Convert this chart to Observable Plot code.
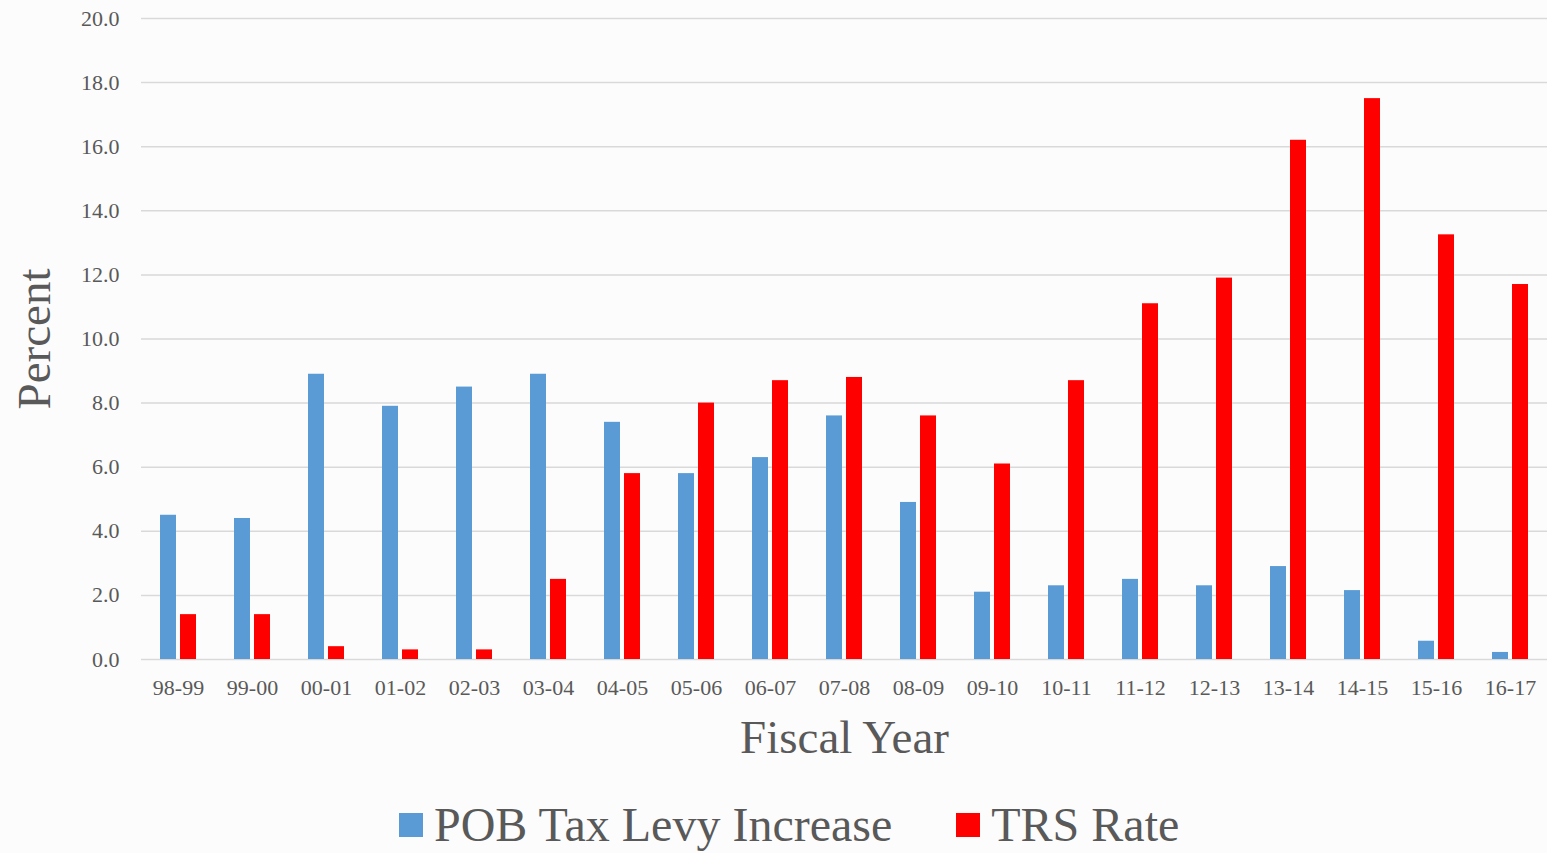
<!DOCTYPE html>
<html><head><meta charset="utf-8">
<script src="https://cdn.jsdelivr.net/npm/d3@7"></script>
<script src="https://cdn.jsdelivr.net/npm/@observablehq/plot@0.6"></script>
<style>
html,body{margin:0;padding:0;overflow:hidden;background:#fcfcfc;}
#chart{position:relative;width:1547px;height:853px;font-family:"Liberation Serif",serif;color:#595959;}
#legend{position:absolute;left:399px;top:801px;display:flex;align-items:center;font-size:48px;line-height:48px;color:#595959;white-space:nowrap;}
.item{display:flex;align-items:center;}
.sw{width:24px;height:24px;margin-right:11px;display:inline-block;}
</style></head><body>
<div id="chart"></div>
<script>
const years = ["98-99","99-00","00-01","01-02","02-03","03-04","04-05","05-06","06-07","07-08","08-09","09-10","10-11","11-12","12-13","13-14","14-15","15-16","16-17"];
const pobTaxLevy = [4.5,4.4,8.9,7.9,8.5,8.9,7.4,5.8,6.3,7.6,4.9,2.1,2.3,2.5,2.3,2.9,2.15,0.57,0.22];
const trsRate = [1.4,1.4,0.4,0.3,0.3,2.5,5.8,8.0,8.7,8.8,7.6,6.1,8.7,11.1,11.9,16.2,17.5,13.25,11.7];
const seriesNames = ["POB Tax Levy Increase","TRS Rate"];
const seriesColors = ["#5B9BD5","#FF0000"];
const yTicks = [0,2,4,6,8,10,12,14,16,18,20];
const yTitle = "Percent";
const xTitle = "Fiscal Year";

const table = [];
years.forEach((yr,i)=>{
  table.push({year:yr, series:seriesNames[0], value:pobTaxLevy[i]});
  table.push({year:yr, series:seriesNames[1], value:trsRate[i]});
});

const chart = Plot.plot({
  width:1547, height:780,
  marginTop:18, marginBottom:121, marginLeft:140, marginRight:0,
  style:{fontFamily:'"Liberation Serif", serif', color:"#595959", background:"#fcfcfc"},
  fx:{domain:years, padding:0},
  x:{domain:seriesNames, paddingInner:0.2, paddingOuter:0.9, axis:null},
  y:{domain:[0,20]},
  color:{domain:seriesNames, range:seriesColors},
  marks:[
    Plot.gridY(yTicks,{stroke:"#d9d9d9", strokeOpacity:1, strokeWidth:1.5}),
    Plot.axisY(yTicks,{tickSize:0, tickPadding:22, fontSize:22, tickFormat:d=>d.toFixed(1), label:null}),
    Plot.axisFx({anchor:"bottom", tickSize:0, tickPadding:20, fontSize:22, label:null}),
    Plot.barY(table,{fx:"year", x:"series", y:"value", fill:"series", inset:0}),
    Plot.text([yTitle],{facet:"super", frameAnchor:"left", dx:-106.5, rotate:-90, textAnchor:"middle", lineAnchor:"middle", fontSize:47, fill:"#595959"}),
    Plot.text([xTitle],{facet:"super", frameAnchor:"bottom", dy:78, textAnchor:"middle", lineAnchor:"middle", fontSize:47, fill:"#595959"})
  ]
});
const root = document.getElementById("chart");
root.appendChild(chart);

const legend = document.createElement("div");
legend.id = "legend";
seriesNames.forEach((name,i)=>{
  const item = document.createElement("div");
  item.className = "item";
  if (i>0) item.style.marginLeft = "64px";
  const sw = document.createElement("span");
  sw.className = "sw";
  sw.style.background = seriesColors[i];
  const label = document.createElement("span");
  label.textContent = name;
  item.appendChild(sw); item.appendChild(label);
  legend.appendChild(item);
});
root.appendChild(legend);
</script>
</body></html>
